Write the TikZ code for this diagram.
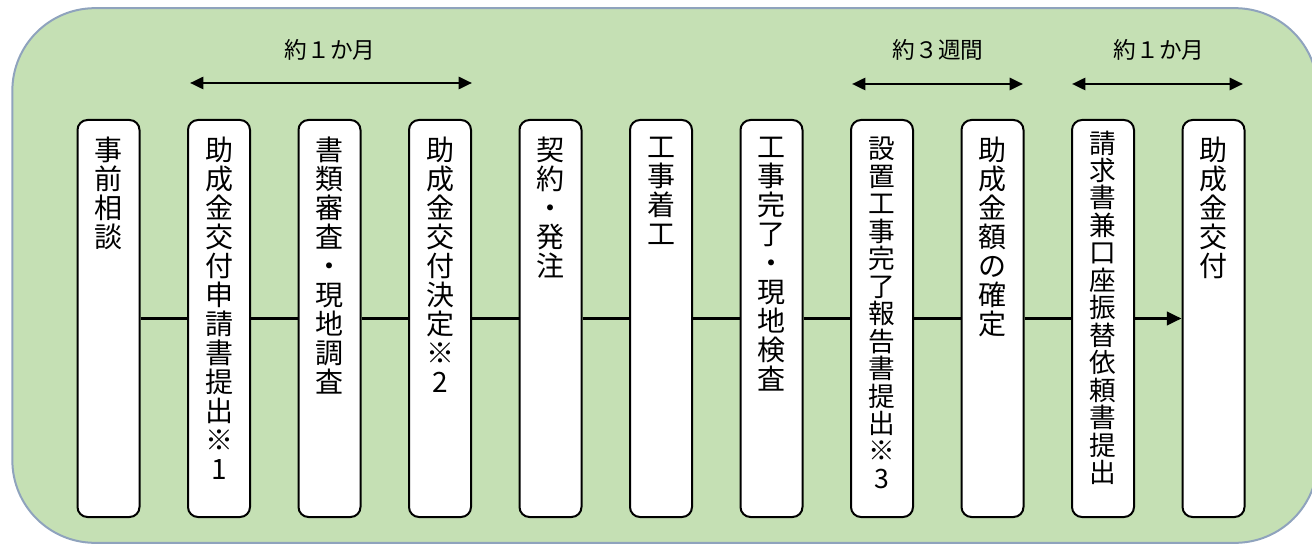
\documentclass[tikz,border=0pt]{standalone}
\usepackage{fontspec}
\setmainfont{Noto Sans CJK JP}
\usetikzlibrary{arrows.meta}
\definecolor{bgfill}{HTML}{C5E0B4}
\definecolor{bgline}{HTML}{8FA3BD}
\begin{document}
\begin{tikzpicture}[x=0.75pt,y=-0.75pt,
  stepbox/.style={draw=black,line width=1.5pt,fill=white,rounded corners=7.5pt,
    minimum width=46.5pt,minimum height=297.75pt,inner sep=0pt},
  vtext/.style={anchor=north,align=center,inner sep=0pt,
    font=\fontsize{21}{21.75}\selectfont},
  vtextsmall/.style={anchor=north,align=center,inner sep=0pt,
    font=\fontsize{20}{20.6}\selectfont},
  flow/.style={line width=2.1pt},
  span/.style={line width=2pt,{Triangle[length=10pt,width=9pt]}-{Triangle[length=10pt,width=9pt]}},
  spanlabel/.style={font=\fontsize{17}{19}\selectfont,inner sep=0pt}]
\useasboundingbox (0,0) rectangle (1312,545);
\clip (0,0) rectangle (1312,545);
\node[draw=bgline,line width=1.5pt,fill=bgfill,rounded corners=62pt,
  minimum width=979pt,minimum height=401pt,inner sep=0pt] (bg) at (665,275.5) {};
% boxes
\foreach \i in {1,...,11}{
  \node[stepbox] (b\i) at ({108.5+110.5*(\i-1)},318.5) {};
}
% connectors
\foreach \i/\j in {1/2,2/3,3/4,4/5,5/6,6/7,7/8,8/9,9/10}{
  \draw[flow] (b\i) -- (b\j);
}
\draw[flow,-{Triangle[length=11pt,width=10pt]}] (b10) -- (b11);
% texts
\node[vtext] (t1) at ([yshift=-13.5pt]b1.north) {事\\前\\相\\談};
\node[vtext] (t2) at ([yshift=-13.5pt]b2.north) {助\\成\\金\\交\\付\\申\\請\\書\\提\\出\\※\\1};
\node[vtext] (t3) at ([yshift=-13.5pt]b3.north) {書\\類\\審\\査\\・\\現\\地\\調\\査};
\node[vtext] (t4) at ([yshift=-13.5pt]b4.north) {助\\成\\金\\交\\付\\決\\定\\※\\2};
\node[vtext] (t5) at ([yshift=-13.5pt]b5.north) {契\\約\\・\\発\\注};
\node[vtext] (t6) at ([yshift=-13.5pt]b6.north) {工\\事\\着\\工};
\node[vtext] (t7) at ([yshift=-13.5pt]b7.north) {工\\事\\完\\了\\・\\現\\地\\検\\査};
\node[vtextsmall] (t8) at ([yshift=-13.5pt]b8.north) {設\\置\\工\\事\\完\\了\\報\\告\\書\\提\\出\\※\\3};
\node[vtext] (t9) at ([yshift=-13.5pt]b9.north) {助\\成\\金\\額\\の\\確\\定};
\node[vtextsmall] (t10) at ([yshift=-8.5pt]b10.north) {請\\求\\書\\兼\\口\\座\\振\\替\\依\\頼\\書\\提\\出};
\node[vtext] (t11) at ([yshift=-13.5pt]b11.north) {助\\成\\金\\交\\付};
% spans
\coordinate (s1a) at (190,83);
\coordinate (s1b) at (472,83);
\coordinate (s2a) at (852,84);
\coordinate (s2b) at (1023,84);
\coordinate (s3a) at (1072,84);
\coordinate (s3b) at (1243,84);
\draw[span] (s1a) -- (s1b);
\draw[span] (s2a) -- (s2b);
\draw[span] (s3a) -- (s3b);
\node[spanlabel] (l1) at (330,50) {約１か月};
\node[spanlabel] (l2) at (938,50) {約３週間};
\node[spanlabel] (l3) at (1159,50) {約１か月};
\end{tikzpicture}
\end{document}
